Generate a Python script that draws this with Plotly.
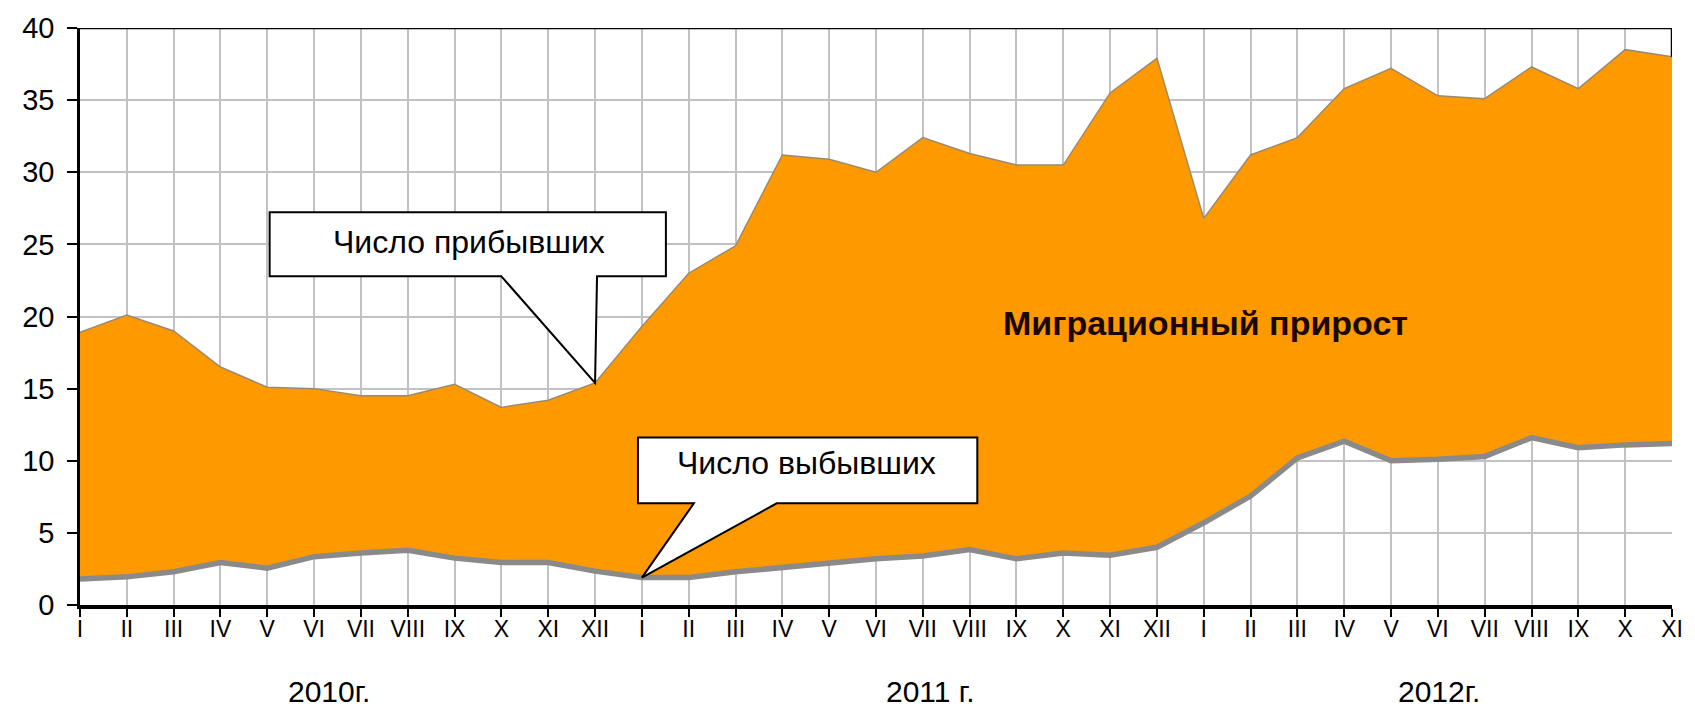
import plotly.graph_objects as go

# ---- data ----
months = ["I", "II", "III", "IV", "V", "VI", "VII", "VIII", "IX", "X", "XI", "XII"]
tick_labels = months + months + months[:11]
years = ["2010г.", "2011 г.", "2012г."]
year_pos = [5.32, 18.15, 29.03]

arrivals = [18.9, 20.1, 19.0, 16.5, 15.1, 15.0, 14.5, 14.5, 15.3, 13.7, 14.2, 15.4,
            19.3, 23.0, 24.9, 31.2, 30.9, 30.0, 32.4, 31.3, 30.5, 30.5, 35.5, 37.9,
            26.8, 31.2, 32.4, 35.8, 37.2, 35.3, 35.1, 37.3, 35.8, 38.5, 38.0]
departures = [1.8, 1.95, 2.3, 2.95, 2.55, 3.35, 3.6, 3.8, 3.25, 2.95, 2.95, 2.35,
              1.9, 1.9, 2.3, 2.6, 2.95, 3.2, 3.4, 3.85, 3.2, 3.6, 3.45, 4.0,
              5.7, 7.55, 10.2, 11.35, 10.0, 10.1, 10.3, 11.6, 10.9, 11.1, 11.2]
x = list(range(len(arrivals)))

label_arr = "Число прибывших"
label_dep = "Число выбывших"
label_net = "Миграционный прирост"

# ---- geometry (pixels) ----
W, H = 1695, 711
L, R, T, B = 80, 20, 26, 106
pw, ph = W - L - R, H - T - B
XMAX, YMAX = 34, 40


def px2x(px):
    return (px - L) / pw * XMAX


def py2y(py):
    return (T + ph - py) / ph * YMAX


ORANGE = "#FF9900"
GRAY = "#8a8a8a"
FONT = "Liberation Sans, Arial, sans-serif"

fig = go.Figure()
fig.add_trace(go.Scatter(x=x, y=departures, mode="lines", line=dict(width=0, color=GRAY),
                         hoverinfo="skip", showlegend=False))
fig.add_trace(go.Scatter(x=x, y=arrivals, mode="lines", fill="tonexty", fillcolor=ORANGE,
                         line=dict(width=1.5, color="#9a8a70"), showlegend=False))
fig.add_trace(go.Scatter(x=x, y=departures, mode="lines", line=dict(width=5.5, color=GRAY),
                         showlegend=False))


def callout(box, base_l, base_r, tip):
    x0, y0, x1, y1 = box
    pts = [(x0, y0), (x1, y0), (x1, y1), (base_r, y1), None, (base_l, y1), (x0, y1)]
    path = ""
    for i, p in enumerate(pts):
        if p is None:
            cx, cy = tip
        else:
            cx, cy = px2x(p[0]), py2y(p[1])
        path += ("M" if i == 0 else "L") + f"{cx:.4f},{cy:.4f} "
    path += "Z"
    fig.add_shape(type="path", path=path, xref="x", yref="y", fillcolor="white",
                  line=dict(color="black", width=2), layer="above")


callout((270, 211, 667, 275), 502, 598, (11, arrivals[11]))
callout((639, 437, 979, 503), 695, 778, (12, departures[12]))

# frame: top & right
fig.add_shape(type="line", x0=0, x1=XMAX, y0=YMAX, y1=YMAX, xref="x", yref="y",
              line=dict(color="black", width=2.5), layer="above")
fig.add_shape(type="line", x0=XMAX, x1=XMAX, y0=arrivals[-1], y1=YMAX, xref="x", yref="y",
              line=dict(color="black", width=2.5), layer="above")

fig.add_annotation(x=px2x(470), y=py2y(241), text=label_arr, showarrow=False,
                   font=dict(family=FONT, size=32, color="black"))
fig.add_annotation(x=px2x(808), y=py2y(463), text=label_dep, showarrow=False,
                   font=dict(family=FONT, size=32, color="black"))
fig.add_annotation(x=px2x(1208), y=py2y(322), text="<b>" + label_net + "</b>", showarrow=False,
                   font=dict(family=FONT, size=34, color="#1a0800"))

for yl, xp in zip(years, year_pos):
    fig.add_annotation(x=xp, y=(T + ph - 692) / ph, xref="x", yref="paper", text=yl,
                       showarrow=False, yanchor="middle",
                       font=dict(family=FONT, size=30, color="black"))

fig.update_xaxes(range=[0, XMAX], tickvals=x, ticktext=tick_labels, showgrid=True,
                 gridcolor="#c2c2c6", gridwidth=1.5, showline=True, linecolor="black",
                 linewidth=3.5, ticks="outside", ticklen=8, tickwidth=2, tickcolor="black",
                 tickfont=dict(family=FONT, size=23, color="black"), zeroline=False,
                 ticklabelstandoff=-7)
fig.update_yaxes(range=[0, YMAX], tickvals=list(range(0, 41, 5)), showgrid=True,
                 gridcolor="#c2c2c6", gridwidth=1.5, showline=True, linecolor="black",
                 linewidth=2.5, ticks="outside", ticklen=10, tickwidth=2, tickcolor="black",
                 tickfont=dict(family=FONT, size=29, color="black"), zeroline=False,
                 ticklabelstandoff=7)

fig.update_layout(width=W, height=H, margin=dict(l=L, r=R, t=T, b=B),
                  plot_bgcolor="white", paper_bgcolor="white", showlegend=False)

fig.write_html("out.html", config={"displayModeBar": False},
               post_script="document.body.style.margin='0';document.body.style.overflow='hidden';")
